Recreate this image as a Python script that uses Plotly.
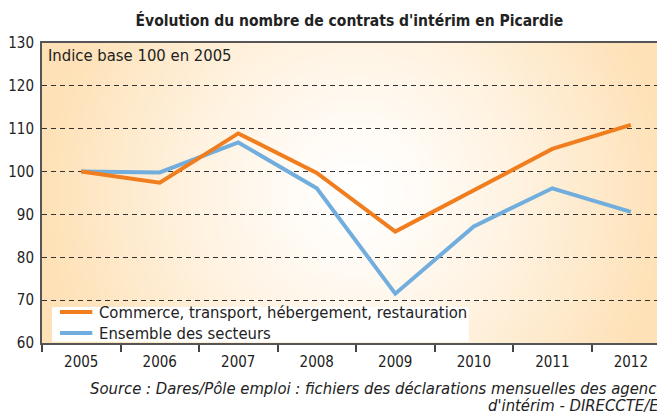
import base64
import struct
import zlib

import plotly.graph_objects as go

years = [2005, 2006, 2007, 2008, 2009, 2010, 2011, 2012]
year_labels = ["2005", "2006", "2007", "2008", "2009", "2010", "2011", "2012"]
commerce = [100, 97.4, 108.9, 99.7, 86.0, 95.6, 105.3, 110.9]
ensemble = [100, 99.8, 106.8, 96.1, 71.5, 87.2, 96.1, 90.6]
y_ticks = [60, 70, 80, 90, 100, 110, 120, 130]
series_names = ["Commerce, transport, hébergement, restauration", "Ensemble des secteurs"]

FONT = "Liberation Sans Narrow, DejaVu Sans Condensed, sans-serif"
ORANGE = "#F07D1E"
BLUE = "#72AEDD"
TXT = "#222222"
Y_MIN, Y_MAX = 60, 130


def gradient_png(w=126, h=60, edge=(254, 225, 182)):
    """Radial white-to-peach background picture (styling only)."""
    rows = []
    cx, cy = (w - 1) / 2.0, (h - 1) / 2.0
    scale = w / 2.0
    for j in range(h):
        row = bytearray([0])
        for i in range(w):
            r = (((i - cx) ** 2 + (j - cy) ** 2) ** 0.5) / scale
            t = min(1.0, r) ** 1.3
            for k in range(3):
                row.append(int(round(255 * (1 - t) + edge[k] * t)))
        rows.append(bytes(row))
    raw = b"".join(rows)

    def chunk(tag, data):
        c = tag + data
        return struct.pack(">I", len(data)) + c + struct.pack(">I", zlib.crc32(c) & 0xFFFFFFFF)

    png = b"\x89PNG\r\n\x1a\n"
    png += chunk(b"IHDR", struct.pack(">IIBBBBB", w, h, 8, 2, 0, 0, 0))
    png += chunk(b"IDAT", zlib.compress(raw, 9))
    png += chunk(b"IEND", b"")
    return "data:image/png;base64," + base64.b64encode(png).decode()


def yfrac(f):
    """Fraction of plot height -> y value (for placing legend decorations)."""
    return Y_MIN + f * (Y_MAX - Y_MIN)


fig = go.Figure()

fig.add_trace(go.Scatter(
    x=years, y=ensemble, mode="lines", name=series_names[1],
    line=dict(color=BLUE, width=4), showlegend=False,
))
fig.add_trace(go.Scatter(
    x=years, y=commerce, mode="lines", name=series_names[0],
    line=dict(color=ORANGE, width=4), showlegend=False,
))

fig.add_layout_image(dict(
    source=gradient_png(), xref="x", yref="y", x=2004.5, y=Y_MAX,
    sizex=8, sizey=Y_MAX - Y_MIN, sizing="stretch", xanchor="left", yanchor="top",
    layer="below", opacity=1,
))

fig.add_shape(type="line", xref="paper", x0=0, x1=1, yref="y", y0=100, y1=100,
              line=dict(color="#666666", width=2), layer="between")

# legend box (drawn manually to match the compact spacing)
fig.add_shape(type="rect", xref="paper", yref="y", x0=0.016, x1=0.687,
              y0=yfrac(0.004), y1=yfrac(0.12), fillcolor="white", line=dict(width=0),
              layer="above")
for yy, col, name in [(0.103, ORANGE, series_names[0]), (0.033, BLUE, series_names[1])]:
    fig.add_shape(type="line", xref="paper", yref="y", x0=0.029, x1=0.081,
                  y0=yfrac(yy), y1=yfrac(yy), line=dict(color=col, width=4),
                  layer="above")
    fig.add_annotation(text=name, xref="paper", yref="paper", x=0.088, y=yy,
                       xanchor="left", yanchor="middle", showarrow=False,
                       font=dict(family=FONT, size=16.5, color=TXT))

fig.update_layout(
    width=657, height=406,
    margin=dict(l=34, r=0, t=35, b=71),
    paper_bgcolor="white", plot_bgcolor="rgba(0,0,0,0)",
    font=dict(family=FONT, size=15, color=TXT),
    title=dict(text="<b>Évolution du nombre de contrats d'intérim en Picardie</b>",
               x=0.495, xref="paper", xanchor="center",
               y=0.970, yanchor="middle",
               font=dict(family=FONT, size=15.5, color=TXT)),
    showlegend=False,
    xaxis=dict(range=[2004.5, 2012.41], tickvals=years, ticktext=year_labels,
               showgrid=False, zeroline=False,
               showline=True, linecolor="#555555", linewidth=2, mirror=True,
               ticks="", ticklabelstandoff=4,
               minor=dict(tick0=2004.5, dtick=1, ticks="outside", ticklen=7,
                          tickwidth=1.5, tickcolor="#444444", showgrid=False),
               tickfont=dict(size=15, color=TXT), fixedrange=True),
    yaxis=dict(range=[Y_MIN, Y_MAX], tickvals=y_ticks, showgrid=True,
               gridcolor="#333333", gridwidth=1, griddash="5px,4px",
               zeroline=False, showline=True, linecolor="#555555", linewidth=2,
               mirror=True, ticks="", ticklabelstandoff=3,
               tickfont=dict(size=15, color=TXT), fixedrange=True),
)

fig.add_annotation(text="Indice base 100 en 2005", xref="paper", yref="paper",
                   x=0.006, y=0.997, xanchor="left", yanchor="top", showarrow=False,
                   font=dict(family=FONT, size=16.5, color=TXT))

fig.add_annotation(text="<i>Source : Dares/Pôle emploi : fichiers des déclarations mensuelles des agences</i>",
                   xref="paper", yref="paper", x=1.021, y=-0.15, xanchor="right",
                   yanchor="middle", showarrow=False,
                   font=dict(family=FONT, size=16.5, color=TXT))
fig.add_annotation(text="<i>d'intérim - DIRECCTE/ESE</i>",
                   xref="paper", yref="paper", x=1.028, y=-0.207, xanchor="right",
                   yanchor="middle", showarrow=False,
                   font=dict(family=FONT, size=16.5, color=TXT))

fig.write_html("out.html")
